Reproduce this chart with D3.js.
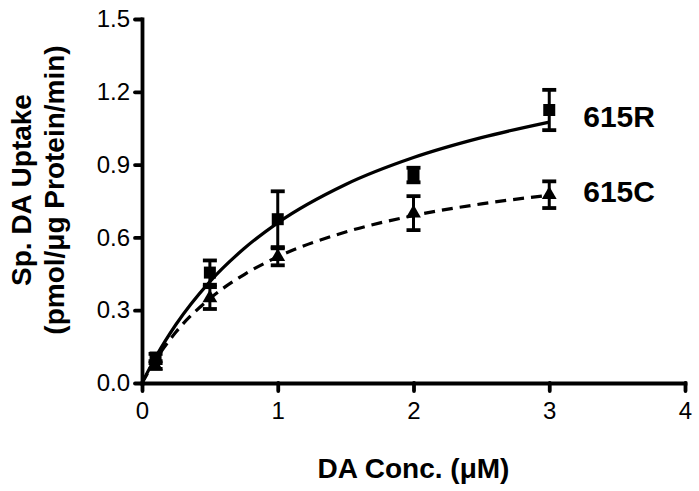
<!DOCTYPE html>
<html>
<head>
<meta charset="utf-8">
<script src="https://cdn.jsdelivr.net/npm/d3@7"></script>
<style>
  body { margin: 0; background: #fff; }
  svg text { font-family: "Liberation Sans", Arial, Helvetica, sans-serif; fill: #000; }
</style>
</head>
<body>
<div id="chart"></div>
<script>
// concentrations (uM) of the measured points
const conc = [0.1, 0.5, 1, 2, 3];

// 615R (squares), mean and SEM
const r615Mean = [0.105, 0.455, 0.675, 0.857, 1.125];
const r615Err  = [0.015, 0.05, 0.115, 0.03, 0.083];

// 615C (triangles), mean and SEM
const c615Mean = [0.07, 0.35, 0.52, 0.70, 0.776];
const c615Err  = [0.012, 0.045, 0.035, 0.07, 0.055];

// fitted curves
const fitConc = [0, 0.1, 0.25, 0.5, 0.75, 1, 1.5, 2, 2.5, 3];
const r615Fit = [0, 0.106, 0.241, 0.418, 0.553, 0.66, 0.818, 0.929, 1.011, 1.075];
const c615Fit = [0, 0.095, 0.21, 0.348, 0.446, 0.52, 0.622, 0.69, 0.738, 0.774];

const xTicks = [0, 1, 2, 3, 4];
const yTicks = [0, 0.3, 0.6, 0.9, 1.2, 1.5];

const width = 699, height = 491;
const margin = {top: 19, right: 14, bottom: 108, left: 142};

const svg = d3.select("#chart").append("svg")
    .attr("width", width)
    .attr("height", height);

const x = d3.scaleLinear().domain([0, 4]).range([margin.left, width - margin.right]);
const y = d3.scaleLinear().domain([0, 1.5]).range([height - margin.bottom, margin.top]);

// axes
const xAxis = svg.append("g")
    .attr("transform", "translate(0," + y(0) + ")")
    .call(d3.axisBottom(x).tickValues(xTicks).tickFormat(d3.format("d")).tickSize(8).tickSizeOuter(0).tickPadding(11));
const yAxis = svg.append("g")
    .attr("transform", "translate(" + x(0) + ",0)")
    .call(d3.axisLeft(y).tickValues(yTicks).tickFormat(d3.format(".1f")).tickSize(7).tickSizeOuter(0).tickPadding(5));

[xAxis, yAxis].forEach(g => {
    g.select(".domain").attr("stroke", "#000").attr("stroke-width", 3.8).attr("stroke-linecap", "square");
    g.selectAll(".tick line").attr("stroke", "#000").attr("stroke-width", 3.8).attr("stroke-linecap", "round");
    g.selectAll(".tick text").style("font-size", "24px");
});

// axis titles
svg.append("text")
    .attr("x", x(2))
    .attr("y", 478)
    .attr("text-anchor", "middle")
    .style("font-size", "28px")
    .style("font-weight", "bold")
    .text("DA Conc. (μM)");

const yTitle = svg.append("text")
    .attr("transform", "translate(31," + 190 + ") rotate(-90)")
    .attr("text-anchor", "middle")
    .style("font-size", "28px")
    .style("font-weight", "bold");
yTitle.append("tspan").attr("x", 0).attr("dy", 0).text("Sp. DA Uptake");
yTitle.append("tspan").attr("x", 0).attr("dy", 33).text("(pmol/μg Protein/min)");

// fit curves
const line = d3.line()
    .x(d => x(d[0]))
    .y(d => y(d[1]))
    .curve(d3.curveMonotoneX);

svg.append("path")
    .datum(fitConc.map((c, i) => [c, r615Fit[i]]))
    .attr("fill", "none")
    .attr("stroke", "#000")
    .attr("stroke-width", 3.2)
    .attr("d", line);

svg.append("path")
    .datum(fitConc.map((c, i) => [c, c615Fit[i]]))
    .attr("fill", "none")
    .attr("stroke", "#000")
    .attr("stroke-width", 3.2)
    .attr("stroke-dasharray", "11,7")
    .attr("d", line);

// error bars + markers
function drawSeries(means, errs, symbol, size, cls) {
    const data = conc.map((c, i) => ({c: c, m: means[i], e: errs[i]}));
    const g = svg.append("g").attr("class", cls);
    const capW = 7;
    const bars = g.selectAll(".err").data(data).join("g").attr("class", "err");
    bars.append("line")
        .attr("x1", d => x(d.c)).attr("x2", d => x(d.c))
        .attr("y1", d => y(d.m - d.e)).attr("y2", d => y(d.m + d.e))
        .attr("stroke", "#000").attr("stroke-width", 3);
    [-1, 1].forEach(s => {
        bars.append("line")
            .attr("x1", d => x(d.c) - capW).attr("x2", d => x(d.c) + capW)
            .attr("y1", d => y(d.m + s * d.e)).attr("y2", d => y(d.m + s * d.e))
            .attr("stroke", "#000").attr("stroke-width", 3.8);
    });
    g.selectAll(".marker").data(data).join("path")
        .attr("class", "marker")
        .attr("transform", d => "translate(" + x(d.c) + "," + y(d.m) + ")")
        .attr("d", d3.symbol().type(symbol).size(size))
        .attr("fill", "#000");
}

drawSeries(r615Mean, r615Err, d3.symbolSquare, 144, "r615");
drawSeries(c615Mean, c615Err, d3.symbolTriangle, 95, "c615");

// series labels
const labels = [
    {name: "615R", v: 1.098},
    {name: "615C", v: 0.789}
];
svg.selectAll(".seriesLabel").data(labels).join("text")
    .attr("class", "seriesLabel")
    .attr("x", x(3) + 34)
    .attr("y", d => y(d.v))
    .attr("dy", "0.36em")
    .style("font-size", "30px")
    .style("font-weight", "bold")
    .text(d => d.name);
</script>
</body>
</html>
